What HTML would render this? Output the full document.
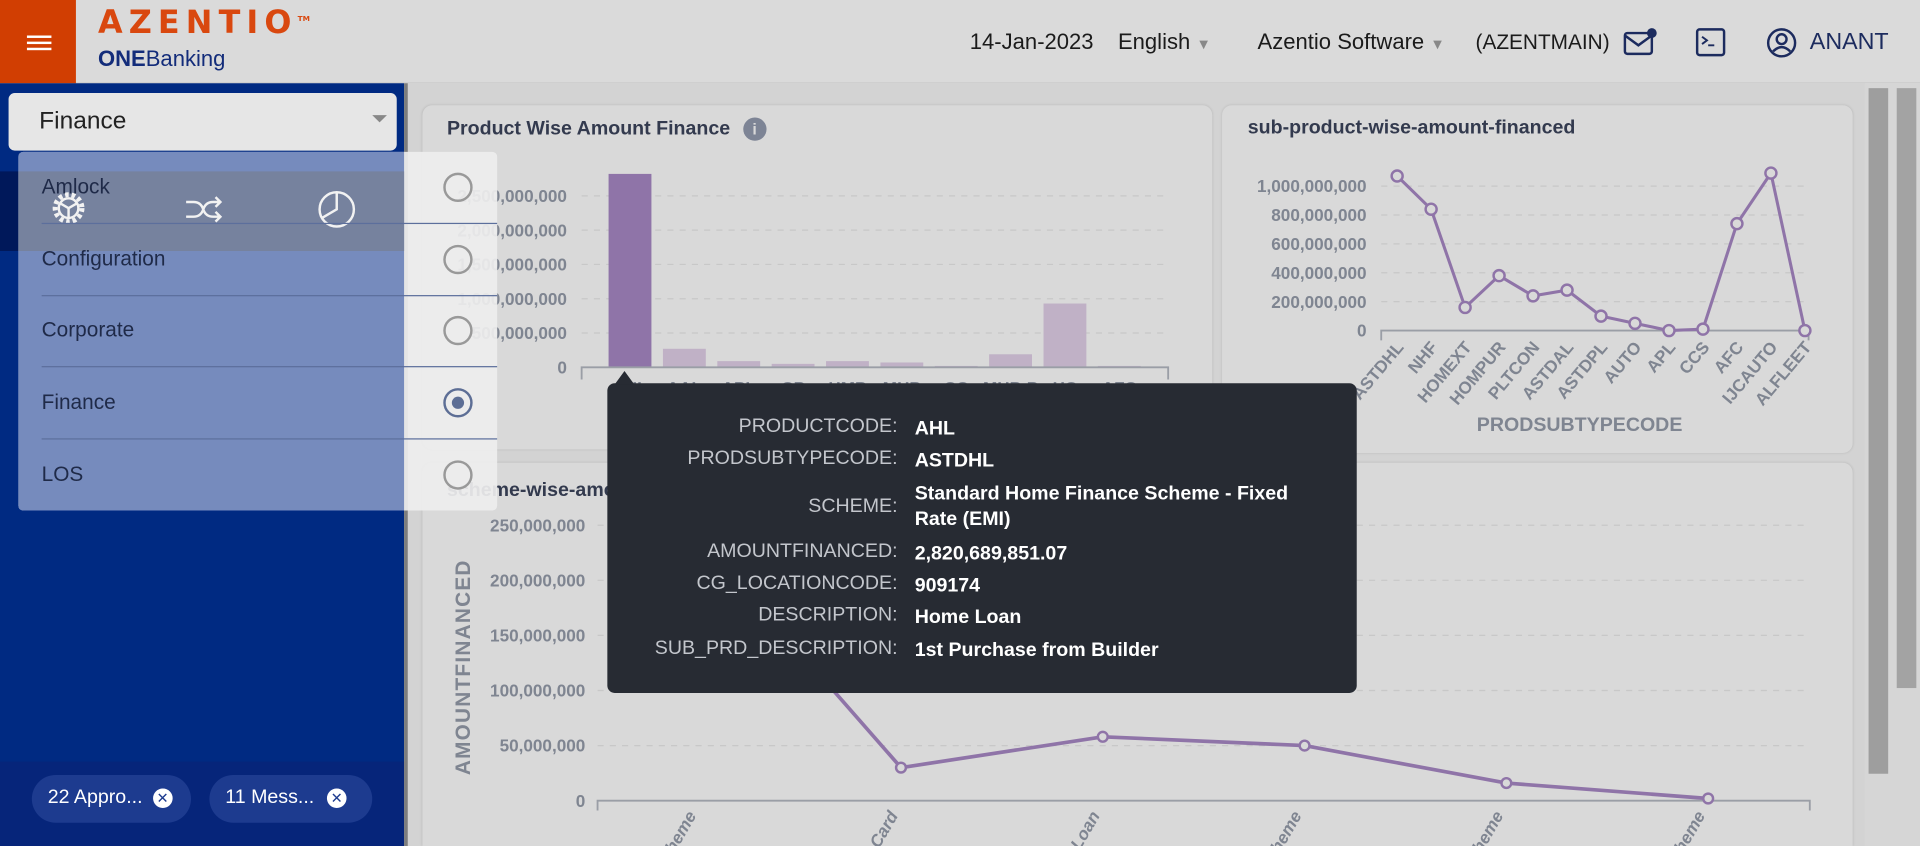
<!DOCTYPE html>
<html><head><meta charset="utf-8">
<style>
*{box-sizing:border-box;margin:0;padding:0}
html,body{width:1920px;height:846px;overflow:hidden;background:#d3d3d3;font-family:"Liberation Sans",sans-serif}
#root{position:absolute;left:0;top:0;width:1568px;height:691px;transform:scale(1.22449,1.2243);transform-origin:0 0;background:#d3d3d3;overflow:hidden}
.abs{position:absolute}
.card{position:absolute;background:#d9d9d9;border-radius:8px;box-shadow:0 0 2px rgba(0,0,0,.12)}
.ttl{position:absolute;font-size:15px;font-weight:bold;color:#333a4e}
svg text{font-family:"Liberation Sans",sans-serif}
.hdr{position:absolute;top:24px;font-size:18px;color:#1b1b1b}
</style></head><body>
<div id="root">
<div class="abs" style="left:0;top:0;width:1568px;height:68px;background:#dadada;border-bottom:1px solid #cfcfcf"></div>
<div class="abs" style="left:0;top:0;width:62px;height:68px;background:#d13e02"></div>
<div class="abs" style="left:22px;top:29px;width:20px;height:12px;border-top:2px solid #fff;border-bottom:2px solid #fff"><div style="margin-top:3px;height:2px;background:#fff"></div></div>
<div class="abs" style="left:80px;top:4px;font-size:26px;font-weight:900;letter-spacing:5px;color:#d9480f;font-family:'DejaVu Sans',sans-serif">AZENTIO<sup style="font-size:6px;letter-spacing:0">TM</sup></div>
<div class="abs" style="left:80px;top:38px;font-size:18px;color:#132c7a"><b>ONE</b>Banking</div>
<div class="hdr" style="left:792px">14-Jan-2023</div>
<div class="hdr" style="left:913px">English <span style="color:#888;font-size:12px">▼</span></div>
<div class="hdr" style="left:1027px">Azentio Software <span style="color:#888;font-size:12px">▼</span></div>
<div class="hdr" style="left:1205px;font-size:17px;top:25px">(AZENTMAIN)</div>
<svg class="abs" style="left:1325px;top:22px" width="30" height="26"><rect x="2" y="5" width="22" height="17" rx="2" fill="none" stroke="#1c2b5e" stroke-width="2"/><path d="M2 7 L13 15 L24 7" fill="none" stroke="#1c2b5e" stroke-width="2"/><circle cx="24" cy="5" r="4" fill="#1c2b5e"/></svg>
<svg class="abs" style="left:1384px;top:22px" width="28" height="26"><rect x="2" y="2" width="22" height="21" rx="2" fill="none" stroke="#1c2b5e" stroke-width="2"/><path d="M6 8 L10 11 L6 14 M11 15 H16" fill="none" stroke="#1c2b5e" stroke-width="1.6"/></svg>
<svg class="abs" style="left:1442px;top:22px" width="26" height="26"><circle cx="13" cy="13" r="11" fill="none" stroke="#1c2b5e" stroke-width="2"/><circle cx="13" cy="10" r="4" fill="none" stroke="#1c2b5e" stroke-width="2"/><path d="M6 20 Q13 13 20 20" fill="none" stroke="#1c2b5e" stroke-width="2"/></svg>
<div class="hdr" style="left:1478px;color:#1c2b5e;font-size:19px">ANANT</div>

<div class="abs" style="left:0;top:68px;width:330px;height:623px;background:#002a82"></div>
<div class="abs" style="left:0;top:622px;width:330px;height:69px;background:#06257a"></div>
<div class="abs" style="left:26px;top:633px;width:130px;height:39px;border-radius:20px;background:#1d3b8f;color:#fff;font-size:16px;padding:10px 0 0 13px">22 Appro... <span style="display:inline-block;width:16px;height:16px;border-radius:8px;background:#fff;color:#1d3b8f;font-size:12px;text-align:center;line-height:16px;margin-left:4px">✕</span></div>
<div class="abs" style="left:171px;top:633px;width:133px;height:39px;border-radius:20px;background:#1d3b8f;color:#fff;font-size:16px;padding:10px 0 0 13px">11 Mess... <span style="display:inline-block;width:16px;height:16px;border-radius:8px;background:#fff;color:#1d3b8f;font-size:12px;text-align:center;line-height:16px;margin-left:6px">✕</span></div>
<div class="abs" style="left:330px;top:68px;width:3px;height:623px;background:#7d7d7d"></div>

<div class="abs" style="left:1523px;top:68px;width:45px;height:623px;background:#d6d6d6"></div>
<div class="abs" style="left:1526px;top:72px;width:16px;height:560px;background:#9e9e9e"></div>
<div class="abs" style="left:1549px;top:72px;width:16px;height:490px;background:#a3a3a3"></div>

<div class="card" style="left:345px;top:86px;width:645px;height:281px"></div>
<div class="ttl" style="left:365px;top:96px;font-size:16px">Product Wise Amount Finance <span style="display:inline-block;width:19px;height:19px;border-radius:10px;background:#7d8495;color:#d9d9d9;text-align:center;font-size:13px;line-height:19px;margin-left:6px">i</span></div>
<div class="card" style="left:998px;top:86px;width:515px;height:284px"></div>
<div class="ttl" style="left:1019px;top:96px;font-size:16px">sub-product-wise-amount-financed</div>
<div class="card" style="left:345px;top:378px;width:1168px;height:313px;border-radius:8px 8px 0 0"></div>
<div class="ttl" style="left:365px;top:392px;font-size:16px">scheme-wise-amount-financed</div>

<svg class="abs" id="chart" style="left:0;top:0" width="1568" height="691"></svg>

<div class="abs" style="left:7px;top:76px;width:317px;height:47px;background:#e6e6e6;border-radius:5px;font-size:20px;color:#222;padding:12px 0 0 25px">Finance<span style="position:absolute;right:8px;top:18px;border-left:6px solid transparent;border-right:6px solid transparent;border-top:6px solid #888"></span></div>
<div class="abs" style="left:0;top:140px;width:330px;height:65px;background:#00185a"></div>
<div class="abs" style="left:15px;top:124px;width:391px;height:293px;border-radius:4px;background:rgba(238,238,238,.92);overflow:hidden">
 <div class="abs" style="left:0;top:0;width:315px;height:293px;background:#768bbd"></div>
 <div class="abs" style="left:0;top:16px;width:315px;height:65px;background:#76829e"></div>
</div>
<svg class="abs" style="left:40px;top:154px" width="32" height="32"><circle cx="16" cy="16" r="11" fill="none" stroke="#f2f2f2" stroke-width="4" stroke-dasharray="3 2.4"/><circle cx="16" cy="16" r="8" fill="none" stroke="#f2f2f2" stroke-width="2"/><path d="M16 16 L9 12 M16 16 L23 12 M16 16 L16 24" stroke="#f2f2f2" stroke-width="2"/></svg>
<svg class="abs" style="left:150px;top:158px" width="32" height="26"><path d="M2 7 H8 Q14 7 16 13 Q18 19 24 19 H30 M2 19 H8 Q14 19 16 13 Q18 7 24 7 H30 M26 3 L30 7 L26 11 M26 15 L30 19 L26 23" fill="none" stroke="#f2f2f2" stroke-width="2"/></svg>
<svg class="abs" style="left:258px;top:154px" width="34" height="34"><circle cx="17" cy="17" r="14" fill="none" stroke="#f2f2f2" stroke-width="2"/><path d="M17 3 V17 L5 24" fill="none" stroke="#f2f2f2" stroke-width="2"/></svg>
<div id="menu"></div>

<div class="abs" style="left:496px;top:313px;width:612px;height:253px;background:#272b33;border-radius:6px"></div>
<div class="abs" style="left:502px;top:303px;border-left:8px solid transparent;border-right:8px solid transparent;border-bottom:11px solid #272b33"></div>
<div id="tip"></div>
</div>
<script>
const prodCats=["AHL","AAL","APL","CP","HMP","MHP","CC","MHP-P","HC","AFC"];
const prodVals=[2820689851,270000000,90000000,50000000,90000000,70000000,20000000,190000000,930000000,20000000];
const prodTicks=[0,500000000,1000000000,1500000000,2000000000,2500000000];
const subCats=["ASTDHL","NHF","HOMEXT","HOMPUR","PLTCON","ASTDAL","ASTDPL","AUTO","APL","CCS","AFC","IJCAUTO","ALFLEET"];
const subVals=[1070000000,840000000,160000000,380000000,240000000,280000000,100000000,50000000,0,10000000,740000000,1090000000,0];
const subTicks=[0,200000000,400000000,600000000,800000000,1000000000];
const schCats=["Standard Home Finance Scheme","Credit Card","Home Loan","Auto Finance Scheme","Personal Scheme","Fleet Scheme"];
const schVals=[239000000,30000000,58000000,50000000,16000000,2000000];
const schTicks=[0,50000000,100000000,150000000,200000000,250000000];
const menuItems=["Amlock","Configuration","Corporate","Finance","LOS"];
const tipLabels=["PRODUCTCODE:","PRODSUBTYPECODE:","SCHEME:","AMOUNTFINANCED:","CG_LOCATIONCODE:","DESCRIPTION:","SUB_PRD_DESCRIPTION:"];
const tipValues=["AHL","ASTDHL","Standard Home Finance Scheme - Fixed Rate (EMI)","2,820,689,851.07","909174","Home Loan","1st Purchase from Builder"];

const NS="http://www.w3.org/2000/svg";
const svg=document.getElementById('chart');
function mk(tag,attrs,parent){const e=document.createElementNS(NS,tag);for(const k in attrs)e.setAttribute(k,attrs[k]);(parent||svg).appendChild(e);return e;}
const fmt=v=>v.toLocaleString('en-US');
const grey="#7f8591";

{const y0=300,k=56/1e9,yv=v=>y0-v*k,x0=475,x1=954,step=44.4,off=22;
 prodTicks.forEach(t=>{const y=yv(t);
  if(t>0){const g=mk('line',{x1:x0,x2:x1,y1:y,y2:y,stroke:'#c8c8c8','stroke-dasharray':'5 5'});}
  const tx=mk('text',{x:463,y:y+5,'text-anchor':'end','font-size':14,'font-weight':'bold',fill:grey});tx.textContent=fmt(t);
  });
 prodVals.forEach((v,i)=>{const w=35,x=x0+off+i*step;
  const r=mk('rect',{x:x,y:yv(v),width:w,height:y0-yv(v),fill:i===0?'#8f74a8':'#c0b1c6'});
  
  const t=mk('text',{x:x+w/2,y:322,'text-anchor':'middle','font-size':14,'font-weight':'bold',fill:grey});t.textContent=prodCats[i];
  });
 const ax=mk('path',{d:`M${x0} ${y0+10} V${y0} H${x1} V${y0+10}`,fill:'none',stroke:'#9a9ea6','stroke-width':1.5});
 }

{const y0=270,k=118/1e9,yv=v=>y0-v*k,x0=1128,x1=1477,first=1141,step=(1474-1141)/(subCats.length-1);
 subTicks.forEach(t=>{const y=yv(t);
  if(t>0){const g=mk('line',{x1:x0,x2:x1,y1:y,y2:y,stroke:'#c8c8c8','stroke-dasharray':'5 5'});}
  const tx=mk('text',{x:1116,y:y+5,'text-anchor':'end','font-size':14,'font-weight':'bold',fill:grey});tx.textContent=fmt(t);
  });
 const ax=mk('path',{d:`M${x0} ${y0+8} V${y0} H${x1} V${y0+8}`,fill:'none',stroke:'#9a9ea6','stroke-width':1.5});
 
 const pts=subVals.map((v,i)=>[first+i*step,yv(v)]);
 const ln=mk('polyline',{points:pts.map(p=>p.join(',')).join(' '),fill:'none',stroke:'#8f74a8','stroke-width':2.5});
 
 pts.forEach((p,i)=>{const c=mk('circle',{cx:p[0],cy:p[1],r:4.5,fill:'#d9d9d9',stroke:'#8f74a8','stroke-width':2});
  
  const t=mk('text',{x:p[0]+6,y:284,'text-anchor':'end','font-size':14,'font-weight':'bold',fill:grey,transform:`rotate(-50 ${p[0]+6} 284)`});t.textContent=subCats[i];
  });
 const at=mk('text',{x:1290,y:352,'text-anchor':'middle','font-size':16,'font-weight':'bold',fill:grey});at.textContent='PRODSUBTYPECODE';
 }

{const y0=654,k=0.9/1e6,yv=v=>y0-v*k,x0=488,x1=1478,first=571,step=(1395-571)/(schCats.length-1);
 schTicks.forEach(t=>{const y=yv(t);
  if(t>0){const g=mk('line',{x1:x0,x2:x1,y1:y,y2:y,stroke:'#c8c8c8','stroke-dasharray':'5 5'});}
  const tx=mk('text',{x:478,y:y+5,'text-anchor':'end','font-size':14,'font-weight':'bold',fill:grey});tx.textContent=fmt(t);
  });
 const ax=mk('path',{d:`M${x0} ${y0+8} V${y0} H${x1} V${y0+8}`,fill:'none',stroke:'#9a9ea6','stroke-width':1.5});
 
 const pts=schVals.map((v,i)=>[first+i*step,yv(v)]);
 const ln=mk('polyline',{points:pts.map(p=>p.join(',')).join(' '),fill:'none',stroke:'#8f74a8','stroke-width':3});
 
 pts.forEach((p,i)=>{const c=mk('circle',{cx:p[0],cy:p[1],r:4,fill:'#d9d9d9',stroke:'#8f74a8','stroke-width':2});
  
  const t=mk('text',{x:p[0]-2,y:666,'text-anchor':'end','font-size':14,'font-weight':'bold','font-style':'italic',fill:grey,transform:`rotate(-60 ${p[0]-2} 666)`});t.textContent=schCats[i];
  });
 const at=mk('text',{x:384,y:545,'text-anchor':'middle','font-size':17,'font-weight':'bold',fill:grey,'letter-spacing':1,transform:'rotate(-90 384 545)'});at.textContent='AMOUNTFINANCED';
 }

const menu=document.getElementById('menu');
menuItems.forEach((m,i)=>{const y=153+i*58.7;
 const d=document.createElement('div');d.className='abs';d.style.cssText=`left:34px;top:${y-10}px;font-size:17px;color:#1f2a48`;d.textContent=m;
 
 
 menu.appendChild(d);
 if(i<4){const s=document.createElement('div');s.className='abs';s.style.cssText=`left:34px;top:${y+29}px;width:372px;height:1px;background:#5c6f9c`;
 
 
 menu.appendChild(s);}
 const r=document.createElement('div');r.className='abs';r.style.cssText=`left:362px;top:${y-12}px;width:24px;height:24px;border-radius:12px;border:2px solid ${m==='Finance'?'#5d6e95':'#999'}`;
 if(m==='Finance')r.innerHTML='<div style="margin:5px;width:10px;height:10px;border-radius:5px;background:#5d6e95"></div>';
 
 
 menu.appendChild(r);});

const tip=document.getElementById('tip');
let ty=340;
tipLabels.forEach((l,i)=>{const two=i===2;
 const a=document.createElement('div');a.className='abs';a.style.cssText=`left:500px;width:233px;text-align:right;top:${two?ty+12:ty}px;font-size:16px;color:#c3c6cc`;a.textContent=l;
 
 
 const b=document.createElement('div');b.className='abs';b.style.cssText=`left:747px;width:320px;top:${ty}px;font-size:16px;font-weight:bold;color:#fff;line-height:21px`;b.textContent=tipValues[i];
 
 
 tip.appendChild(a);tip.appendChild(b);ty+=two?49:26.3;});
</script>
</body></html>
